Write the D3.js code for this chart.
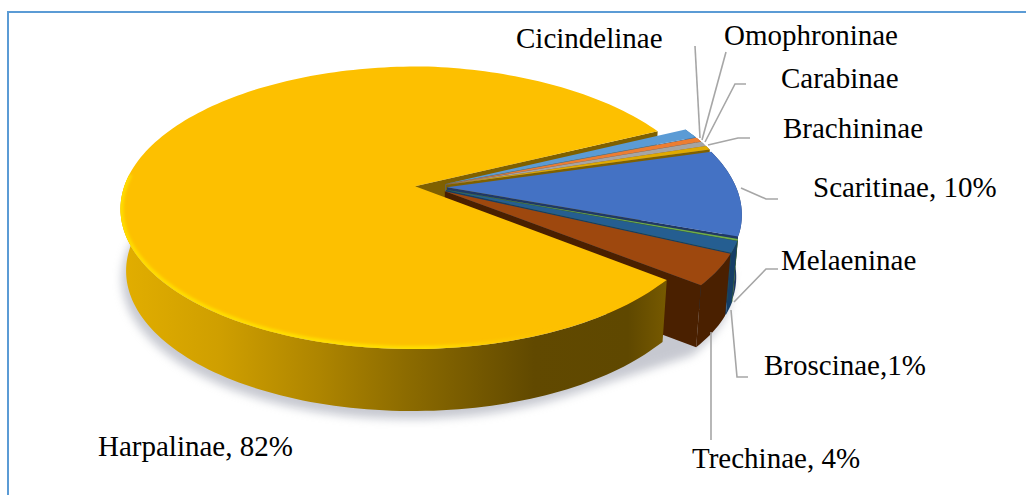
<!DOCTYPE html>
<html lang="en">
<head>
  <meta charset="UTF-8">
  <title>Carabidae subfamilies</title>
  <style>
    body { margin: 0; background: #fff; }
    svg { display: block; }
    .label { font-family: "Liberation Serif", serif; font-size: 29px; fill: #000; }
    .leader { fill: none; stroke: #a6a6a6; stroke-width: 1.6; }
  </style>
  <script src="https://d3js.org/d3.v7.min.js"></script>
</head>
<body>
  <svg width="1026" height="495"></svg>
  <script>
    // slices run clockwise from the top-right edge of the big yellow one
    const categories = ["Cicindelinae", "Omophroninae", "Carabinae", "Brachininae", "Scaritinae", "Melaeninae", "Broscinae", "Trechinae", "Harpalinae"];
    const values = [1.1, 0.55, 0.55, 0.45, 10, 0.2, 1.4, 3.85, 82];
    const labelTexts = ["Cicindelinae", "Omophroninae", "Carabinae", "Brachininae", "Scaritinae, 10%", "Melaeninae", "Broscinae,1%", "Trechinae, 4%", "Harpalinae, 82%"];

    const topColors = ["#5b9bd5", "#ed7d31", "#a5a5a5", "#e0aa00", "#4472c4", "#70ad47", "#255e91", "#9e480e", "#fdc000"];
    const wallColors = ["#3a6d9c", "#a8551e", "#6e6e6e", "#7f6000", "#203864", "#3f6a25", "#153e66", "#4a2000", "#7f6000"];

    // label layout
    const labelX = [516, 724, 781, 783, 813, 781, 764, 692, 98];
    const labelY = [48, 45, 88, 138, 197, 270, 375, 468, 456];
    const leaders = [
      [[695, 46], [700, 138]],
      [[726, 52], [702, 140]],
      [[746, 84], [735, 84], [705, 142]],
      [[750, 138], [738, 138], [708, 145]],
      [[741, 188], [766, 199], [778, 199]],
      [[778, 269], [766, 269], [734, 302]],
      [[731, 310], [737, 377], [748, 377]],
      [[711, 332], [711, 440]]
    ];

    const svg = d3.select("svg");
    const defs = svg.append("defs");

    svg.append("rect")
      .attr("x", 8).attr("y", 12).attr("width", 1040).attr("height", 520)
      .attr("fill", "#fff").attr("stroke", "#5b9bd5").attr("stroke-width", 2);

    // perspective of the disc
    const cx = 431, cy = 187, rx = 291, ry = 138.2, k = 0.152;
    const depth = 62, explode = 0.055, tilt = 5;
    const startDeg = 62.7;

    function project(u, v, z) {
      const s = 1 / (1 + k * v);
      const shrink = 1 - 0.018 * z;
      // right side dips a little, fades out towards the front
      const dip = tilt * Math.max(u, 0) * Math.max(0, Math.min(1, (v + 0.65) / 0.4));
      return [cx + rx * u * s * shrink, cy - ry * v * s + depth * z + dip];
    }

    const pie = d3.pie().sort(null).value(d => d)
      .startAngle(startDeg * Math.PI / 180)
      .endAngle((startDeg + 360) * Math.PI / 180);
    const arcs = pie(values);

    function outerPts(a, i, z, a0, a1) {
      const mid = (a.startAngle + a.endAngle) / 2;
      const ou = explode * Math.sin(mid), ov = explode * Math.cos(mid);
      const from = a0 == null ? a.startAngle : a0, to = a1 == null ? a.endAngle : a1;
      return d3.range(0, 1.0001, 1 / Math.max(4, Math.ceil((to - from) * 40))).map(t => {
        const th = from + (to - from) * t;
        return project(Math.sin(th) + ou, Math.cos(th) + ov, z);
      });
    }
    function apex(a, z) {
      const mid = (a.startAngle + a.endAngle) / 2;
      return project(explode * Math.sin(mid), explode * Math.cos(mid), z);
    }
    const line = d3.line();

    const blur = (id, s) => defs.append("filter").attr("id", id)
      .attr("x", "-20%").attr("y", "-20%").attr("width", "140%").attr("height", "140%")
      .append("feGaussianBlur").attr("stdDeviation", s);
    blur("shadow", 5);
    blur("soft", 1.4);

    const sideGrad = defs.append("linearGradient").attr("id", "sideGrad")
      .attr("gradientUnits", "userSpaceOnUse").attr("x1", 120).attr("x2", 672).attr("y1", 0).attr("y2", 0);
    [[0, "#e2ae00"], [0.18, "#cf9f00"], [0.36, "#ae8500"], [0.52, "#8c6b00"], [0.75, "#614900"], [0.92, "#5f4800"], [1, "#7a5c00"]]
      .forEach(d => sideGrad.append("stop").attr("offset", d[0]).attr("stop-color", d[1]));

    const rimGrad = defs.append("linearGradient").attr("id", "rimGrad")
      .attr("gradientUnits", "userSpaceOnUse").attr("x1", 120).attr("x2", 560).attr("y1", 0).attr("y2", 0);
    [[0, "#ffe000", 0.9], [0.7, "#ffe800", 0.8], [1, "#ffd000", 0]]
      .forEach(d => rimGrad.append("stop").attr("offset", d[0]).attr("stop-color", d[1]).attr("stop-opacity", d[2]));

    const big = arcs[arcs.length - 1];

    // soft shadow under the whole thing
    const shadowPts = arcs.flatMap((a, i) => outerPts(a, i, 1));
    svg.append("path")
      .attr("d", line(d3.polygonHull(shadowPts)))
      .attr("transform", "translate(-4,8)")
      .attr("fill", "#8f93a3").attr("opacity", 0.5).attr("filter", "url(#shadow)");

    // far cut wall of the big slice goes behind everything
    const bigEndTop = outerPts(big, 8, 0, big.endAngle, big.endAngle)[0];
    const bigEndLow = outerPts(big, 8, 1, big.endAngle, big.endAngle)[0];
    svg.append("path")
      .attr("d", line([apex(big, 0), bigEndTop, bigEndLow, apex(big, 1)]) + "Z")
      .attr("fill", wallColors[8]);

    // small slices, back to front
    const order = d3.range(arcs.length - 1);
    order.forEach(i => {
      const a = arcs[i], g = svg.append("g");
      const top = outerPts(a, i, 0), low = outerPts(a, i, 1);
      // lower cut wall, faces the viewer
      g.append("path")
        .attr("d", line([apex(a, 0), top[top.length - 1], low[low.length - 1], apex(a, 1)]) + "Z")
        .attr("fill", wallColors[i]);
      g.append("path")
        .attr("d", line(top.concat(low.slice().reverse())) + "Z")
        .attr("fill", wallColors[i]);
      g.append("path")
        .attr("d", line([apex(a, 0)].concat(top)) + "Z")
        .attr("fill", topColors[i]);
    });

    // big slice side and top come last, it sits in front; only the front part of its wall shows
    const bigTop = outerPts(big, 8, 0);
    const sideEnd = 275 * Math.PI / 180;
    const sideTop = outerPts(big, 8, 0, big.startAngle, sideEnd), sideLow = outerPts(big, 8, 1, big.startAngle, sideEnd);
    svg.append("path")
      .attr("d", line(sideTop.concat(sideLow.slice().reverse())) + "Z")
      .attr("fill", "url(#sideGrad)");
    svg.append("path")
      .attr("d", line([apex(big, 0)].concat(bigTop)) + "Z")
      .attr("fill", topColors[8]);

    // bevel highlight along the front rim
    defs.append("clipPath").attr("id", "bigClip").append("path")
      .attr("d", line([apex(big, 0)].concat(bigTop)) + "Z");
    svg.append("g").attr("clip-path", "url(#bigClip)").append("path")
      .attr("d", line(sideTop))
      .attr("fill", "none").attr("stroke", "url(#rimGrad)").attr("stroke-width", 6)
      .attr("filter", "url(#soft)");

    svg.selectAll(".leader").data(leaders).enter().append("path")
      .attr("class", "leader")
      .attr("d", d => line(d));

    svg.selectAll(".label").data(labelTexts).enter().append("text")
      .attr("class", "label")
      .attr("x", (d, i) => labelX[i])
      .attr("y", (d, i) => labelY[i])
      .text(d => d);
  </script>
</body>
</html>
